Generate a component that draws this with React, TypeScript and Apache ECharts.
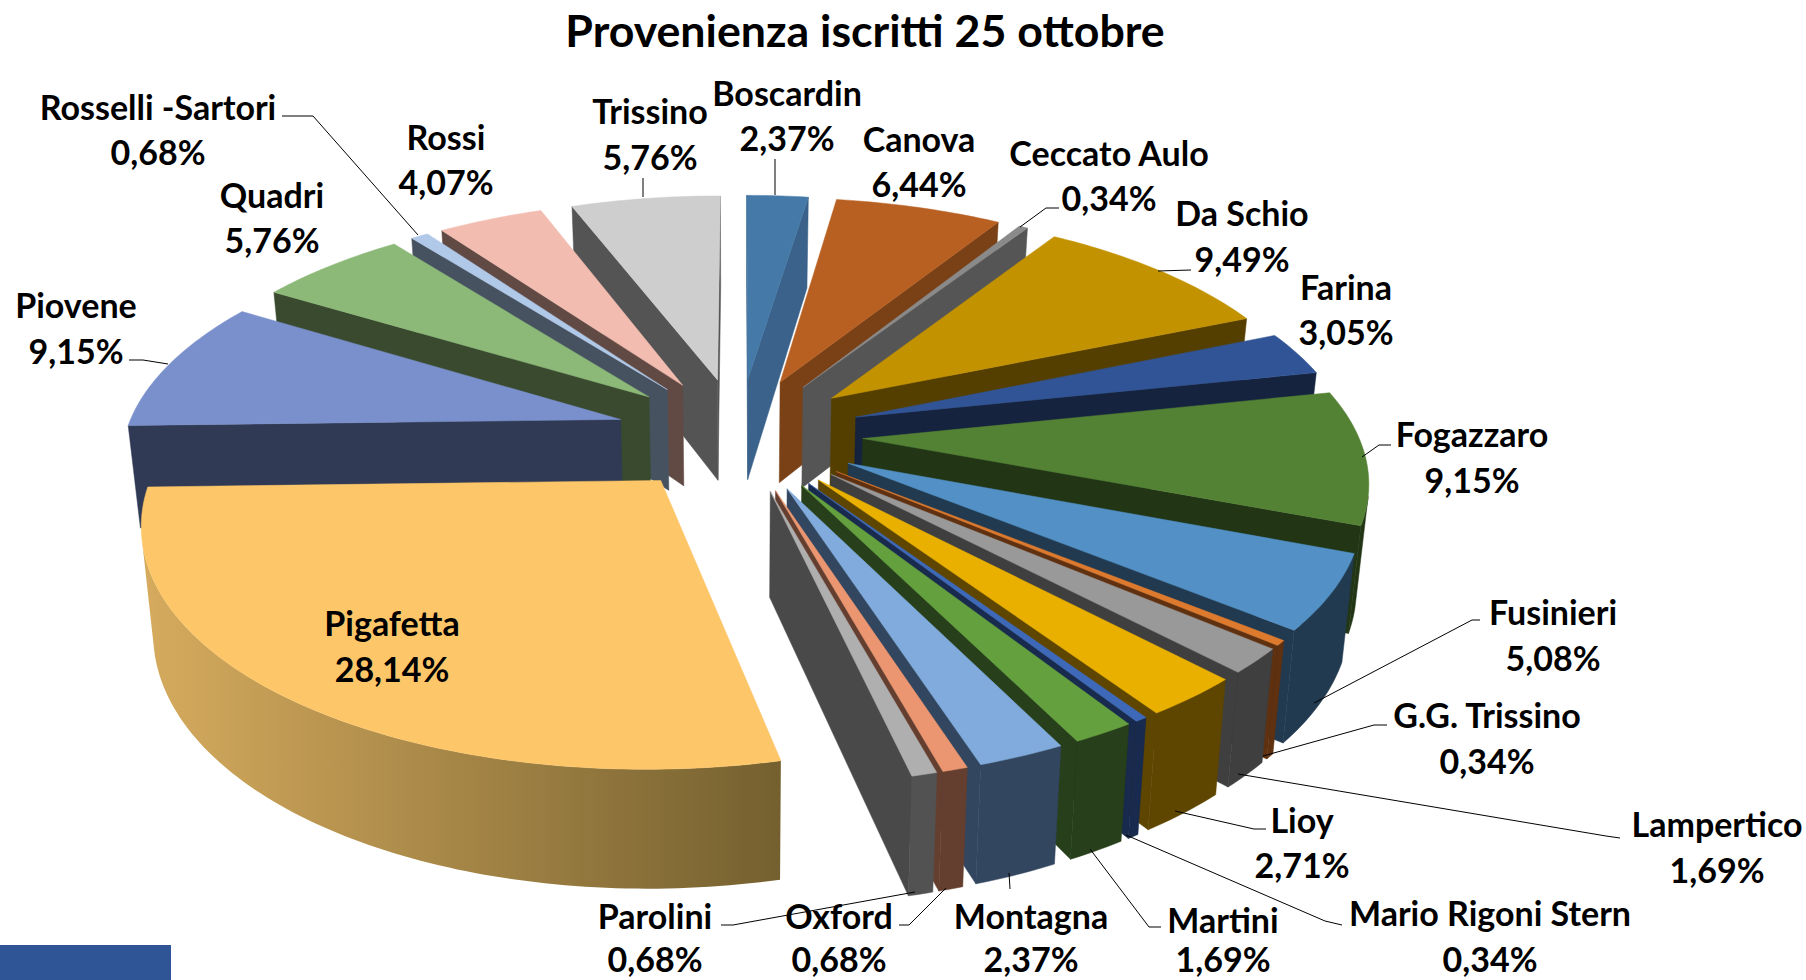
import React, { useEffect, useRef } from "react";
import * as echarts from "echarts";

const titleText = "Provenienza iscritti 25 ottobre";
const names = ["Boscardin","Canova","Ceccato Aulo","Da Schio","Farina","Fogazzaro","Fusinieri","G.G. Trissino","Lampertico","Lioy","Mario Rigoni Stern","Martini","Montagna","Oxford","Parolini","Pigafetta","Piovene","Quadri","Rosselli -Sartori","Rossi","Trissino"];
const values = [2.37,6.44,0.34,9.49,3.05,9.15,5.08,0.34,1.69,2.71,0.34,1.69,2.37,0.68,0.68,28.14,9.15,5.76,0.68,4.07,5.76];
const topColors = ["#4579A8","#B86022","#8A8A8A","#C29200","#315496","#548235","#5290C6","#DD7A2E","#999999","#E9B000","#3E69B8","#65A03E","#80ABDC","#EB9670","#AFAFAF","#FDC668","#7A90CC","#8CB978","#B1C9E8","#F2BDB0","#CECECE"];
const sideColors = ["#3A628A","#7A4116","#555555","#553F00","#15233F","#223616","#213A50","#5F3110","#3F3F3F","#5E4600","#182A4D","#273F1A","#33465F","#643F30","#494949","#76602F","#303A55","#3A4A2F","#465260","#614A44","#545454"];
const outerColors = ["#3A628A","#7A4116","#555555","#553F00","#15233F","#223616","#213A50","#5F3110","#3F3F3F","#5E4600","#182A4D","#273F1A","#33465F","#643F30","#525252","#76602F","#303A55","#3A4A2F","#465260","#614A44","#545454"];
const pigafettaWall = ["#D6AB5E", "#74602F"];

// label centres: x, name y, percentage y
const labelSpots = [[787,92,137],[919,138,183],[1109,152,197],[1242,212,258],[1346,286,331],[1472,433,479],[1553,611,657],[1487,714,760],[1717,823,869],[1302,819,864],[1490,912,958],[1223,919,958],[1031,915,958],[839,915,958],[655,915,958],[392,622,668],[76,304,350],[272,194,239],[158,106,151],[446,136,181],[650,110,156]];
const leaderLines: number[][][] = [
  [[775,159],[775,195]],[],
  [[1059,208],[1046,208],[1020,227]],
  [[1191,270],[1158,271]],[],
  [[1391,445],[1379,445],[1362,457]],
  [[1480,620],[1472,620],[1314,703]],
  [[1387,725],[1374,725],[1263,756]],
  [[1620,838],[1606,836],[1238,774]],
  [[1266,829],[1254,829],[1175,811]],
  [[1342,925],[1325,921],[1126,835]],
  [[1161,927],[1149,927],[1090,849]],
  [[1009,873],[1010,889]],
  [[899,925],[909,925],[946,888]],
  [[721,925],[733,925],[915,892]],
  [],
  [[129,360],[143,360],[168,364]],[],
  [[282,116],[313,116],[418,235]],[],
  [[643,178],[643,197]],
];

// projection of the exploded pie
const CX = 739, CY = 434, SX = 495, SY = 228, PERSP = 0.155, EXPLODE = 0.25, DEPTH = 103;
const total = values.reduce((a, b) => a + b, 0);
const project = (u: number, v: number, low: boolean) => {
  const w = 1 + PERSP * v;
  const x = CX + (SX * u) / w;
  const y = CY - (SY * v) / w;
  if (!low) return [x, y];
  return [CX + (x - CX) * 0.98, y + DEPTH / Math.pow(w, 0.72)];
};
const area = (p: number[][]) => {
  let s = 0;
  p.forEach((a, i) => { const b = p[(i + 1) % p.length]; s += a[0] * b[1] - b[0] * a[1]; });
  return s / 2;
};

const wedges = (() => {
  let acc = 0;
  const list = values.map((val, index) => {
    const a0 = (acc / total) * Math.PI * 2;
    acc += val;
    const a1 = (acc / total) * Math.PI * 2;
    return { index, a0, a1, mid: (a0 + a1) / 2 };
  });
  return list.sort((a, b) => Math.cos(b.mid) - Math.cos(a.mid));
})();

function wedgeChildren(w: { index: number; a0: number; a1: number; mid: number }) {
  const ox = EXPLODE * Math.sin(w.mid), oy = EXPLODE * Math.cos(w.mid);
  const n = Math.max(2, Math.ceil(((w.a1 - w.a0) * 180) / Math.PI));
  const top: number[][] = [], low: number[][] = [];
  for (let k = 0; k <= n; k++) {
    const t = w.a0 + ((w.a1 - w.a0) * k) / n;
    top.push(project(ox + Math.sin(t), oy + Math.cos(t), false));
    low.push(project(ox + Math.sin(t), oy + Math.cos(t), true));
  }
  const tipT = project(ox, oy, false), tipL = project(ox, oy, true);
  const side = sideColors[w.index];
  const out: any[] = [];
  const wall = (a: number[], b: number[], a2: number[], b2: number[]) => {
    const q = [a, b, b2, a2];
    if (area(q) < 0) out.push({ type: "polygon", shape: { points: q }, style: { fill: side, stroke: side, lineWidth: 0.5 } });
  };
  wall(tipT, top[0], tipL, low[0]);
  wall(top[n], tipT, low[n], tipL);
  const vis: number[] = [];
  for (let k = 0; k < n; k++) {
    if (area([top[k], top[k + 1], low[k + 1], low[k]]) < 0) vis.push(k);
  }
  if (vis.length) {
    const from = vis[0], to = vis[vis.length - 1] + 1;
    const pts = [...top.slice(from, to + 1), ...low.slice(from, to + 1).reverse()];
    const fill = names[w.index] === "Pigafetta"
      ? new echarts.graphic.LinearGradient(0, 0, 1, 0, [{ offset: 0, color: pigafettaWall[0] }, { offset: 1, color: pigafettaWall[1] }])
      : outerColors[w.index];
    out.push({ type: "polygon", shape: { points: pts }, style: { fill, stroke: typeof fill === "string" ? fill : undefined, lineWidth: 0.5 } });
  }
  out.push({ type: "polygon", shape: { points: [tipT, ...top] }, style: { fill: topColors[w.index], stroke: topColors[w.index], lineWidth: 0.5 } });
  return out;
}

const FONT = "Lato";
const LABEL_SIZE = 34;

export default function App() {
  const ref = useRef<HTMLDivElement>(null);
  useEffect(() => {
    document.body.style.margin = "0";
    const chart = echarts.init(ref.current!, null, { renderer: "svg" });
    chart.setOption({
      animation: false,
      backgroundColor: "#FFFFFF",
      title: {
        text: titleText, left: 860, top: 25, textAlign: "center", textVerticalAlign: "middle",
        textStyle: { fontFamily: FONT, fontWeight: "bold", fontSize: 44.7, color: "#000000" },
      },
      graphic: [{ type: "rect", shape: { x: 0, y: 945, width: 171, height: 35 }, style: { fill: "#2F5597" } }],
      series: [
        {
          type: "custom", coordinateSystem: "none", silent: true, z: 2,
          data: wedges.map((w) => [w.index, values[w.index]]),
          renderItem: (params: any) => ({ type: "group", children: wedgeChildren(wedges[params.dataIndex]) }),
        },
        {
          type: "custom", coordinateSystem: "none", silent: true, z: 3,
          data: names.map((n, i) => [i, values[i]]),
          renderItem: (params: any) => {
            const i = params.dataIndex;
            const [x, y1, y2] = labelSpots[i];
            const children: any[] = [];
            if (leaderLines[i].length) children.push({ type: "polyline", shape: { points: leaderLines[i] }, style: { stroke: "#000000", lineWidth: 1, fill: "none" } });
            const text = (t: string, y: number) => ({
              type: "text", x, y,
              style: { text: t, fontFamily: FONT, fontWeight: "bold", fontSize: LABEL_SIZE, fill: "#000000", align: "center", verticalAlign: "middle" },
            });
            children.push(text(names[i], y1));
            children.push(text(values[i].toFixed(2).replace(".", ",") + "%", y2));
            return { type: "group", children };
          },
        },
      ],
    });
    return () => chart.dispose();
  }, []);
  return <div ref={ref} style={{ position: "absolute", left: 0, top: 0, width: 1806, height: 980 }} />;
}
